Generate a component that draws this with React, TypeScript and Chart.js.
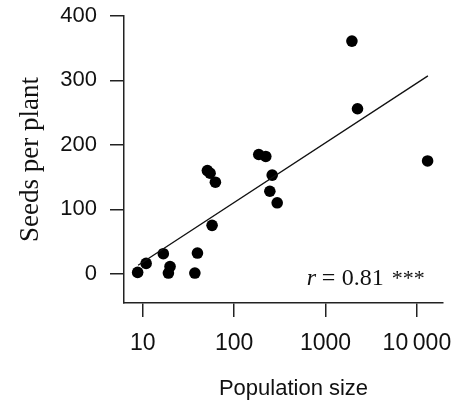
import React, { useEffect, useRef } from "react";
import { Chart, registerables } from "chart.js";
Chart.register(...registerables);

// Data
const popSize = [8.8, 10.9, 16.8, 19.1, 19.9, 37.2, 39.7, 51, 54.6, 62.4, 57.4, 186, 222, 261, 246, 296, 1945, 2239, 13090];
const seedsPerPlant = [2, 16, 31, 1, 11, 1, 32, 160, 156, 142, 75, 185, 182, 153, 128, 110, 361, 256, 175];

// Regression line endpoints
const fitX = [8.9, 13200];
const fitY = [13, 307];

// Axes
const xTicks = [10, 100, 1000, 10000];
const xTickLabels = ["10", "100", "1000", "10\u2009000"];
const yTicks = [0, 100, 200, 300, 400];
const xRange = [6.24, 19300];
const yRange = [-45.5, 400];
const xTitle = "Population size";
const yTitle = "Seeds per plant";

// Annotation
const annotText = { r: "r", eq: "=", val: "0.81", stars: "***" };
const annotAnchor = { x: 625, y: -17.5 };

const INK = "#111";
const AXIS = "#222";

const annotationPlugin = {
  id: "rAnnotation",
  afterDatasetsDraw(chart: any) {
    const { ctx, scales, chartArea } = chart;
    const px = scales.x.getPixelForValue(annotAnchor.x);
    const py = scales.y.getPixelForValue(annotAnchor.y);
    ctx.save();
    ctx.fillStyle = INK;
    ctx.textBaseline = "alphabetic";
    ctx.textAlign = "left";
    ctx.font = "italic 24px 'Liberation Serif'";
    ctx.fillText(annotText.r, px, py);
    ctx.font = "24px 'Liberation Serif'";
    ctx.fillText(annotText.eq, px + 15, py);
    ctx.fillText(annotText.val, px + 35, py);
    ctx.font = "22px 'Liberation Serif'";
    ctx.fillText(annotText.stars, px + 85, py);
    // x axis title
    ctx.font = "22px 'Liberation Sans'";
    ctx.textAlign = "center";
    ctx.fillText(xTitle, (chartArea.left + chartArea.right) / 2 + 10, chart.height - 11);
    ctx.restore();
  },
};

export default function App() {
  const ref = useRef<HTMLCanvasElement>(null);
  useEffect(() => {
    document.body.style.margin = "0";
    const points = popSize.map((x, i) => ({ x, y: seedsPerPlant[i] }));
    const line = fitX.map((x, i) => ({ x, y: fitY[i] }));
    const chart = new Chart(ref.current!, {
      type: "scatter",
      data: {
        datasets: [
          {
            data: line,
            showLine: true,
            borderColor: "#111",
            borderWidth: 1.3,
            pointRadius: 0,
            fill: false,
          } as any,
          {
            data: points,
            backgroundColor: "#000",
            borderWidth: 0,
            pointRadius: 5.8,
          },
        ],
      },
      options: {
        responsive: false,
        animation: false,
        layout: { padding: { top: 16, right: 15, left: 0, bottom: 0 } },
        plugins: { legend: { display: false }, tooltip: { enabled: false } },
        scales: {
          x: {
            type: "logarithmic",
            min: xRange[0],
            max: xRange[1],
            afterBuildTicks: (s: any) => {
              s.ticks = xTicks.map((v) => ({ value: v }));
            },
            afterFit: (s: any) => {
              s.height = 103;
              s.paddingLeft = 0;
              s.paddingRight = 0;
            },
            ticks: {
              callback: (v: any) => {
                const i = xTicks.indexOf(Number(v));
                return i >= 0 ? xTickLabels[i] : "";
              },
              font: { family: "'Liberation Sans'", size: 23 },
              color: INK,
              padding: 13,
              maxRotation: 0,
              autoSkip: false,
            },
            grid: { drawOnChartArea: false, drawTicks: true, tickLength: 14, color: AXIS, lineWidth: 1.5 },
            border: { display: true, color: AXIS, width: 1.5 },
            title: { display: false },
          },
          y: {
            type: "linear",
            min: yRange[0],
            max: yRange[1],
            afterBuildTicks: (s: any) => {
              s.ticks = yTicks.map((v) => ({ value: v }));
            },
            afterFit: (s: any) => {
              s.width = 124;
              s.paddingTop = 0;
              s.paddingBottom = 0;
            },
            ticks: {
              font: { family: "'Liberation Sans'", size: 22 },
              color: INK,
              padding: 13,
            },
            grid: { drawOnChartArea: false, drawTicks: true, tickLength: 14, color: AXIS, lineWidth: 1.5 },
            border: { display: true, color: AXIS, width: 1.5 },
            title: {
              display: true,
              text: yTitle,
              font: { family: "'Liberation Serif'", size: 27 },
              color: INK,
              padding: { top: 15, bottom: 0 },
            },
          },
        },
      },
      plugins: [annotationPlugin],
    });
    return () => chart.destroy();
  }, []);
  return (
    <div style={{ width: 458, height: 406 }}>
      <canvas ref={ref} width={458} height={406} style={{ width: 458, height: 406, display: "block" }} />
    </div>
  );
}
